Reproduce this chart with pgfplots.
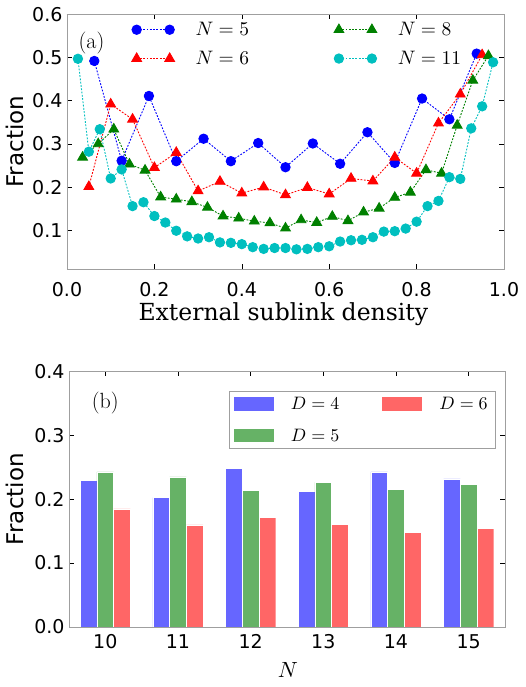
\documentclass[border=0pt]{standalone}
\usepackage{fontspec}
\setsansfont{DejaVu Sans}
\newfontfamily\dvserif{DejaVu Serif}
\usepackage{graphicx}
\usepackage{pgfplots}
\pgfplotsset{compat=1.18}
\newcommand{\bm}[2]{\scalebox{#1}{\fontsize{10}{12}\selectfont$#2$}}
\definecolor{mblue}{rgb}{0,0,1}
\definecolor{mred}{rgb}{1,0,0}
\definecolor{mgreen}{rgb}{0,0.5,0}
\definecolor{mcyan}{rgb}{0,0.75,0.75}
\definecolor{bblue}{HTML}{6666FF}
\definecolor{bgreen}{HTML}{66B266}
\definecolor{bred}{HTML}{FF6666}
\pgfplotsset{
  common/.style={
    scale only axis,
    axis line style={gray!75},
    tick style={black, line width=0.6pt},
    tick align=inside,
    major tick length=5pt,
    tick pos=both,
    xticklabel pos=lower,
    yticklabel pos=left,
    ticklabel style={font=\fontsize{19}{19}\selectfont\sffamily},
    /pgf/number format/assume math mode=true,
    /pgf/number format/fixed,
    /pgf/number format/fixed zerofill,
    /pgf/number format/precision=1,
    yticklabel style={xshift=-1pt},
    ylabel style={font=\fontsize{23}{23}\selectfont\sffamily},
  },
  lstyle/.style={line width=0.9pt, dash pattern=on 1.8pt off 1.5pt},
}
\pgfplotstableread{
x y
0.0625 0.492
0.125 0.261
0.1875 0.411
0.25 0.260
0.3125 0.312
0.375 0.260
0.4375 0.302
0.5 0.246
0.5625 0.301
0.625 0.254
0.6875 0.327
0.75 0.256
0.8125 0.405
0.875 0.357
0.9375 0.509
}\dataA
\pgfplotstableread{
x y
0.05 0.201
0.10 0.392
0.15 0.357
0.20 0.245
0.25 0.280
0.30 0.191
0.35 0.213
0.40 0.186
0.45 0.200
0.50 0.182
0.55 0.199
0.60 0.184
0.65 0.220
0.70 0.214
0.75 0.269
0.80 0.232
0.85 0.348
0.90 0.415
0.95 0.506
}\dataB
\pgfplotstableread{
x y
0.0357 0.269
0.0714 0.300
0.1071 0.334
0.1429 0.253
0.1786 0.239
0.2143 0.177
0.25 0.172
0.2857 0.166
0.3214 0.153
0.3571 0.133
0.3929 0.128
0.4286 0.121
0.4643 0.117
0.5 0.105
0.5357 0.124
0.5714 0.118
0.6071 0.132
0.6429 0.122
0.6786 0.142
0.7143 0.151
0.75 0.176
0.7857 0.188
0.8214 0.240
0.8571 0.232
0.8929 0.343
0.9286 0.447
0.9643 0.504
}\dataC
\pgfplotstableread{
x y
0.025 0.497
0.05 0.282
0.075 0.334
0.1 0.220
0.125 0.241
0.15 0.156
0.175 0.165
0.2 0.133
0.225 0.118
0.25 0.099
0.275 0.086
0.3 0.081
0.325 0.084
0.35 0.072
0.375 0.071
0.4 0.068
0.425 0.061
0.45 0.057
0.475 0.059
0.5 0.059
0.525 0.056
0.55 0.057
0.575 0.061
0.6 0.063
0.625 0.074
0.65 0.077
0.675 0.078
0.7 0.084
0.725 0.097
0.75 0.098
0.775 0.104
0.8 0.120
0.825 0.156
0.85 0.168
0.875 0.223
0.9 0.219
0.925 0.336
0.95 0.387
0.975 0.489
}\dataD
\pgfplotstableread{
n d4 d5 d6
10 0.229 0.2425 0.1846
11 0.2023 0.2347 0.1596
12 0.2477 0.2133 0.1711
13 0.2123 0.2263 0.1611
14 0.2425 0.2154 0.1476
15 0.2316 0.2232 0.1544
}\bars
\begin{document}
\begin{tikzpicture}[x=1pt,y=1pt]
\useasboundingbox (0,0) rectangle (526,687);
\begin{axis}[common,
  at={(67pt,417.8pt)}, anchor=south west, width=437pt, height=254.9pt,
  xmin=0, xmax=1, ymin=0.01, ymax=0.6,
  xtick={0,0.2,0.4,0.6,0.8,1.0},
  ytick={0.1,0.2,0.3,0.4,0.5,0.6},
  xticklabel style={yshift=-10pt},
  xlabel={\dvserif External sublink density},
  xlabel style={font=\fontsize{23.5}{23.5}\selectfont, at={(axis description cs:0.495,-0.175)}, anchor=center},
  ylabel={Fraction},
  ylabel style={at={(axis description cs:-0.119,0.5)}, anchor=center},
  legend columns=2,
  legend style={draw=none, fill=none, at={(axis description cs:0.141,0.985)}, anchor=north west,
    row sep=10pt,
    /tikz/every odd column/.append style={column sep=19pt},
    /tikz/every even column/.append style={column sep=83pt}},
  legend cell align=left,
  legend image code/.code={\draw[#1] plot coordinates {(0pt,0pt) (33pt,0pt)};},
]
\addplot[mblue, lstyle, mark=*, mark size=4.7pt, mark options={solid, draw=mblue, fill=mblue}, forget plot] table[x=x,y=y]{\dataA};
\addplot[mred, lstyle, mark=triangle*, mark size=5.6pt, mark options={solid, draw=mred, fill=mred}, forget plot] table[x=x,y=y]{\dataB};
\addplot[mgreen, lstyle, mark=triangle*, mark size=5.6pt, mark options={solid, draw=mgreen, fill=mgreen}, forget plot] table[x=x,y=y]{\dataC};
\addplot[mcyan, lstyle, mark=*, mark size=4.7pt, mark options={solid, draw=mcyan, fill=mcyan}, forget plot] table[x=x,y=y]{\dataD};
\addlegendimage{mblue, lstyle, mark=*, mark size=4.7pt, mark options={solid}}
\addlegendentry{\bm{1.95}{N=5}}
\addlegendimage{mgreen, lstyle, mark=triangle*, mark size=5.6pt, mark options={solid}}
\addlegendentry{\bm{1.95}{N=8}}
\addlegendimage{mred, lstyle, mark=triangle*, mark size=5.6pt, mark options={solid}}
\addlegendentry{\bm{1.95}{N=6}}
\addlegendimage{mcyan, lstyle, mark=*, mark size=4.7pt, mark options={solid}}
\addlegendentry{\bm{1.95}{N=11}}
\node[font=\fontsize{22}{22}\selectfont, anchor=center] at (axis description cs:0.056,0.887) {(a)};
\end{axis}

\begin{axis}[common,
  at={(69pt,60pt)}, anchor=south west, width=436pt, height=255.7pt,
  xmin=9.5, xmax=15.5, ymin=0, ymax=0.4,
  xtick={10,11,12,13,14,15},
  xticklabels={10,11,12,13,14,15},
  xticklabel style={yshift=-4pt},
  ytick={0,0.1,0.2,0.3,0.4},
  xlabel={\bm{2.2}{N}},
  xlabel style={at={(axis description cs:0.502,-0.168)}, anchor=center},
  ylabel={Fraction},
  ylabel style={at={(axis description cs:-0.124,0.5)}, anchor=center},
  legend columns=2,
  legend style={draw=gray!75, fill=white, at={(axis description cs:0.977,0.924)}, anchor=north east,
    row sep=14pt, inner xsep=5pt, inner ysep=4pt,
    /tikz/every odd column/.append style={column sep=15pt},
    /tikz/every even column/.append style={column sep=41pt}},
  legend cell align=left,
  legend image code/.code={\path[#1, draw=none] (0pt,-6.7pt) rectangle (40pt,6.7pt);},
]
\addplot[ybar, bar width=0.23, bar shift=-0.23, fill=bblue, draw=white, line width=0.4pt, forget plot] table[x=n,y=d4]{\bars};
\addplot[ybar, bar width=0.23, bar shift=0, fill=bgreen, draw=white, line width=0.4pt, forget plot] table[x=n,y=d5]{\bars};
\addplot[ybar, bar width=0.23, bar shift=0.23, fill=bred, draw=white, line width=0.4pt, forget plot] table[x=n,y=d6]{\bars};
\addlegendimage{fill=bblue, draw=none}
\addlegendentry{\bm{1.8}{D=4}}
\addlegendimage{fill=bred, draw=none}
\addlegendentry{\bm{1.8}{D=6}}
\addlegendimage{fill=bgreen, draw=none}
\addlegendentry{\bm{1.8}{D=5}}
\node[font=\fontsize{22}{22}\selectfont, anchor=center] at (axis description cs:0.083,0.875) {(b)};
\end{axis}
\end{tikzpicture}
\end{document}
